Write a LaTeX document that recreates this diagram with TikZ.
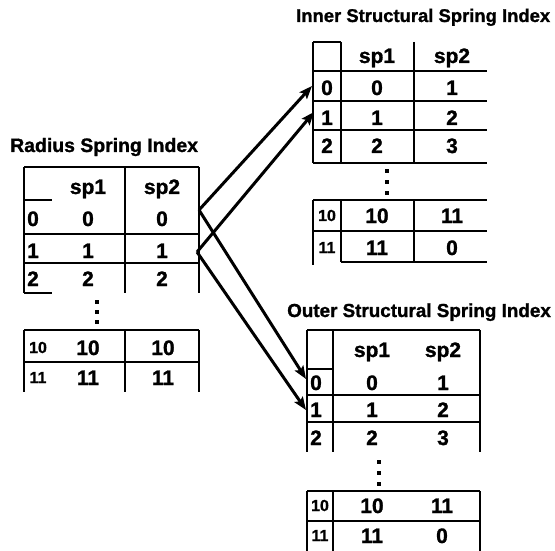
\documentclass[tikz,border=0pt]{standalone}
\usepackage{fontspec}
\setmainfont{Liberation Sans}[BoldFeatures={FakeBold=1.2}]
\usetikzlibrary{arrows.meta}
\begin{document}
\begin{tikzpicture}[x=1bp,y=-1bp,
  grid/.style={line width=1.3bp, black},
  cell/.style={anchor=base, inner sep=0pt, font=\fontsize{21}{21}\selectfont\bfseries},
  small/.style={anchor=base, inner sep=0pt, font=\fontsize{16}{16}\selectfont\bfseries},
  title/.style={anchor=base west, inner sep=0pt, font=\fontsize{#1}{#1}\selectfont\bfseries},
  link/.style={line width=3bp, -{Stealth[length=13bp,width=10bp,inset=2.5bp]}},
  dotmark/.style={fill=black, minimum size=4.5bp, inner sep=0pt}
]
\useasboundingbox (0,0) rectangle (555,551);

% ---------- titles ----------
\node[title=19.5] (rtitle) at (10,152) {Radius Spring Index};
\node[title=18.5] (ititle) at (296,22) {Inner Structural Spring Index};
\node[title=18.9] (otitle) at (287,317) {Outer Structural Spring Index};

% ---------- radius table, upper block ----------
\draw[grid] (24,167) -- (199,167);
\draw[grid] (24,167) -- (24,293);
\draw[grid] (125,167) -- (125,293);
\draw[grid] (199,167) -- (199,293);
\draw[grid] (24,200) -- (52,200);
\draw[grid] (24,234) -- (199,234);
\draw[grid] (24,263) -- (199,263);
\draw[grid] (24,293) -- (52,293);

\node[cell] (rh1) at (88,194) {sp1};
\node[cell] (rh2) at (162,194) {sp2};
\node[cell] (ri0) at (33,226) {0};
\node[cell] (ra0) at (88,226) {0};
\node[cell] (rb0) at (162,226) {0};
\node[cell] (ri1) at (33,258) {1};
\node[cell] (ra1) at (88,258) {1};
\node[cell] (rb1) at (162,258) {1};
\node[cell] (ri2) at (33,286) {2};
\node[cell] (ra2) at (88,286) {2};
\node[cell] (rb2) at (162,286) {2};

\node[dotmark] (rd1) at (97,302) {};
\node[dotmark] (rd2) at (97,312) {};
\node[dotmark] (rd3) at (97,322) {};

% ---------- radius table, lower block ----------
\draw[grid] (24,330) -- (199,330);
\draw[grid] (24,362) -- (199,362);
\draw[grid] (24,330) -- (24,392);
\draw[grid] (125,330) -- (125,392);
\draw[grid] (199,330) -- (199,392);

\node[small] (ri10) at (38,353) {10};
\node[cell] (ra10) at (88,355) {10};
\node[cell] (rb10) at (163,355) {10};
\node[small] (ri11) at (38,383) {11};
\node[cell] (ra11) at (88,385) {11};
\node[cell] (rb11) at (163,385) {11};

% ---------- inner table, upper block ----------
\draw[grid] (313,42) -- (341,42);
\draw[grid] (313,42) -- (313,163);
\draw[grid] (341,42) -- (341,163);
\draw[grid] (414,42) -- (414,163);
\draw[grid] (313,71) -- (487,71);
\draw[grid] (313,101) -- (487,101);
\draw[grid] (313,130) -- (487,130);
\draw[grid] (313,163) -- (487,163);

\node[cell] (ih1) at (377,63) {sp1};
\node[cell] (ih2) at (452,63) {sp2};
\node[cell] (ii0) at (327,95) {0};
\node[cell] (ia0) at (377,95) {0};
\node[cell] (ib0) at (452,95) {1};
\node[cell] (ii1) at (327,125) {1};
\node[cell] (ia1) at (377,125) {1};
\node[cell] (ib1) at (452,125) {2};
\node[cell] (ii2) at (327,153) {2};
\node[cell] (ia2) at (377,153) {2};
\node[cell] (ib2) at (452,153) {3};

\node[dotmark] (id1) at (387,171) {};
\node[dotmark] (id2) at (387,182) {};
\node[dotmark] (id3) at (387,193) {};

% ---------- inner table, lower block ----------
\draw[grid] (313,200) -- (487,200);
\draw[grid] (313,231) -- (487,231);
\draw[grid] (341,262) -- (487,262);
\draw[grid] (313,200) -- (313,265);
\draw[grid] (341,200) -- (341,262);
\draw[grid] (414,200) -- (414,262);

\node[small] (ii10) at (327,221) {10};
\node[cell] (ia10) at (377,223) {10};
\node[cell] (ib10) at (452,223) {11};
\node[small] (ii11) at (327,253) {11};
\node[cell] (ia11) at (377,255) {11};
\node[cell] (ib11) at (452,255) {0};

% ---------- outer table, upper block ----------
\draw[grid] (307,330) -- (480,330);
\draw[grid] (307,330) -- (307,452);
\draw[grid] (333,330) -- (333,452);
\draw[grid] (480,330) -- (480,452);
\draw[grid] (307,369) -- (333,369);
\draw[grid] (307,395) -- (480,395);
\draw[grid] (307,422) -- (480,422);

\node[cell] (oh1) at (372,357) {sp1};
\node[cell] (oh2) at (443,357) {sp2};
\node[cell] (oi0) at (316,390) {0};
\node[cell] (oa0) at (372,390) {0};
\node[cell] (ob0) at (443,390) {1};
\node[cell] (oi1) at (316,417) {1};
\node[cell] (oa1) at (372,417) {1};
\node[cell] (ob1) at (443,417) {2};
\node[cell] (oi2) at (316,445) {2};
\node[cell] (oa2) at (372,445) {2};
\node[cell] (ob2) at (443,445) {3};

\node[dotmark] (od1) at (379,462) {};
\node[dotmark] (od2) at (379,473) {};
\node[dotmark] (od3) at (379,484) {};

% ---------- outer table, lower block ----------
\draw[grid] (307,491) -- (480,491);
\draw[grid] (307,521) -- (480,521);
\draw[grid] (307,491) -- (307,551);
\draw[grid] (333,491) -- (333,551);
\draw[grid] (480,491) -- (480,551);

\node[small] (oi10) at (320,511) {10};
\node[cell] (oa10) at (372,513) {10};
\node[cell] (ob10) at (442,513) {11};
\node[small] (oi11) at (320,541) {11};
\node[cell] (oa11) at (372,543) {11};
\node[cell] (ob11) at (442,543) {0};

% ---------- links from the radius rows ----------
\coordinate (src0) at (199,210);
\coordinate (src1) at (197,252);
\coordinate (in0) at (312,86);
\coordinate (in1) at (314,112);
\coordinate (out0) at (306,379);
\coordinate (out1) at (306,410);

\draw[link] (src0) -- (in0);
\draw[link] (src0) -- (out0);
\draw[link] (src1) -- (in1);
\draw[link] (src1) -- (out1);
\end{tikzpicture}
\end{document}
